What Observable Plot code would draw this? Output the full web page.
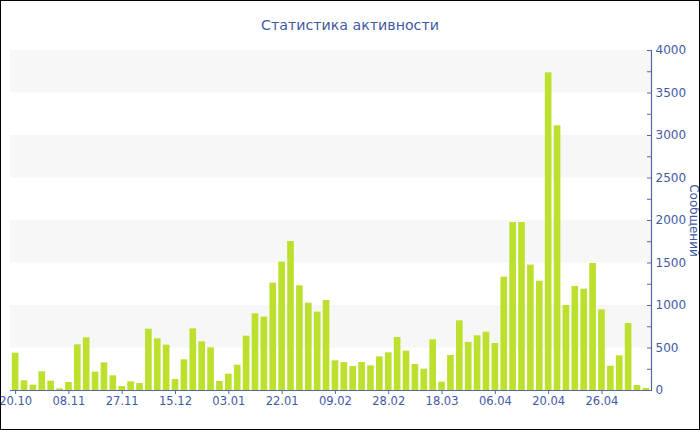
<!DOCTYPE html>
<html><head><meta charset="utf-8">
<script src="https://cdn.jsdelivr.net/npm/d3@7"></script>
<script src="https://cdn.jsdelivr.net/npm/@observablehq/plot@0.6"></script>
<style>
body{margin:0;background:#fff;}
#frame{width:700px;height:430px;box-sizing:border-box;border:1px solid #000;position:relative;overflow:hidden;font-family:"DejaVu Sans",sans-serif;}
#title{height:40px;line-height:48px;text-align:center;font-size:14.2px;color:#3f5aa5;}
#chart svg{display:block;}
</style></head><body>
<div id="frame"><div id="title">Статистика активности</div><div id="chart"></div></div>
<script>
const values = [439,114,63,220,110,20,94,537,620,216,325,173,47,102,82,721,608,533,
129,361,725,573,502,106,192,298,639,902,863,1263,1510,1753,1231,1027,922,1059,
349,329,282,329,290,396,443,624,463,306,251,596,98,412,820,565,643,686,
553,1333,1976,1976,1475,1286,3737,3114,1000,1224,1192,1494,949,286,408,788,59,24];
const tickLabels = ["20.10","08.11","27.11","15.12","03.01","22.01","09.02","28.02","18.03","06.04","20.04","26.04"];
const labelEvery = 6;
const yTicks = [0,500,1000,1500,2000,2500,3000,3500,4000];
const yMinor = [0,250,500,750,1000,1250,1500,1750,2000,2250,2500,2750,3000,3250,3500,3750,4000];
const stripes = [500,1500,2500,3500];
const yLabel = "Сообщений";

const data = values.map((v, i) => ({i, v}));
const tickIdx = tickLabels.map((_, k) => k * labelEvery);
const blue = "#3f5aa5", line = "#5468a8";

const chart = Plot.plot({
  width: 698, height: 388,
  marginTop: 9, marginBottom: 39, marginLeft: 9, marginRight: 48,
  style: {fontFamily: "DejaVu Sans, sans-serif", fontSize: "11.5px", color: blue, background: "transparent", overflow: "visible"},
  x: {type: "band", domain: data.map(d => d.i), paddingInner: 0.25, paddingOuter: 0.2},
  y: {domain: [0, 4000]},
  marks: [
    Plot.rectY(stripes, {y1: d => d, y2: d => d + 500, fill: "#f7f7f7"}),
    Plot.barY(data, {x: "i", y: "v", fill: "#bde02e"}),
    Plot.ruleY([0], {stroke: line, strokeWidth: 1.2}),
    Plot.frame({anchor: "right", stroke: line, strokeWidth: 1.2}),
    Plot.ruleY(yMinor, {insetLeft: 637, stroke: line}),
    Plot.axisY({anchor: "right", ticks: yTicks, tickFormat: d => String(d), tickSize: 0, tickPadding: 4, label: null, fill: blue, fontSize: 12}),
    Plot.axisX({ticks: tickIdx, tickFormat: i => tickLabels[i / labelEvery], tickSize: 4, tickPadding: 2, stroke: line, fill: blue, label: null, fontSize: 11.5}),
    Plot.text([yLabel], {frameAnchor: "right", textAnchor: "middle", dx: 42, rotate: 90, fill: blue, fontSize: 12})
  ]
});
document.getElementById("chart").appendChild(chart);
</script>
</body></html>
